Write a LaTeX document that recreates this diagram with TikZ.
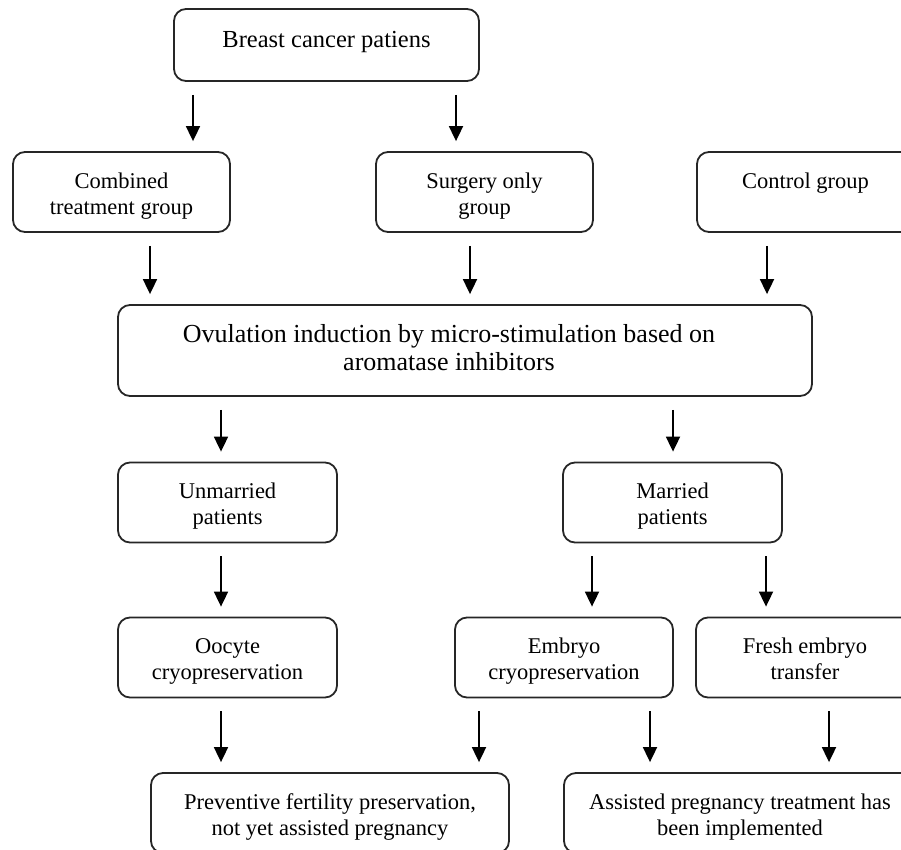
\documentclass[tikz,border=0pt]{standalone}
\usepackage{fontspec}
\setmainfont{Liberation Serif}
\usepackage{tikz}
\usetikzlibrary{arrows.meta}
% stacked lines, lowered a little inside the box
\newcommand{\lines}[2][-4pt]{\raisebox{#1}[\height][\depth]{\begin{tabular}{@{}c@{}}#2\end{tabular}}}

\begin{document}
\begin{tikzpicture}[x=1pt,y=-1pt]
  \tikzstyle{box}=[draw=black!85,line width=1.8pt,rounded corners=12pt,
                   minimum width=217pt,minimum height=80pt,inner sep=0pt,
                   font=\fontsize{22.5}{26}\selectfont]
  \tikzstyle{arr}=[line width=1.8pt,-{Triangle[length=15pt,width=14pt]},
                   shorten <=13pt,shorten >=10pt]
  \useasboundingbox (0,0) rectangle (901,850);
  \clip (0,0) rectangle (901,850);
  % boxes
  \node[box,minimum width=305pt,minimum height=72pt,font=\fontsize{24.5}{28}\selectfont]
        (patients) at (326.5,45) {\lines[3pt]{Breast cancer patiens}};
  \node[box] (combined) at (121.5,192) {\lines{Combined\\treatment group}};
  \node[box] (surgery) at (484.5,192) {\lines{Surgery only\\group}};
  \node[box] (control) at (805.5,192) {\lines{Control group\\~}};
  \node[box,minimum width=694pt,minimum height=91pt,font=\fontsize{26}{28}\selectfont]
        (ovulation) at (465,350.5) {\lines[0pt]{Ovulation induction by micro-stimulation based on\\aromatase inhibitors}\kern32pt};
  \node[box,minimum width=219pt] (unmarried) at (227.5,502.5) {\lines{Unmarried\\patients}};
  \node[box,minimum width=219pt] (married) at (672.5,502.5) {\lines{Married\\patients}};
  \node[box,minimum width=219pt] (oocyte) at (227.5,657.5) {\lines{Oocyte\\cryopreservation}};
  \node[box,minimum width=218pt] (embryo) at (564,657.5) {\lines{Embryo\\cryopreservation}};
  \node[box,minimum width=218pt] (fresh) at (805,657.5) {\lines{Fresh embryo\\transfer}};
  \node[box,minimum width=358pt] (preventive) at (330,813) {\lines{Preventive fertility preservation,\\not yet assisted pregnancy}};
  \node[box,minimum width=352pt] (assisted) at (740,813) {\lines{Assisted pregnancy treatment has\\been implemented}};
  % arrow columns
  \foreach \n/\x in {a/193,b/456,c/150,d/470,e/767,f/221,g/673,h/592,i/766,j/479,k/650,l/829}
    \coordinate (\n) at (\x,0);
  \draw[arr] (patients.south -| a) -- (combined.north -| a);
  \draw[arr] (patients.south -| b) -- (surgery.north -| b);
  \draw[arr] (combined.south -| c) -- (ovulation.north -| c);
  \draw[arr] (surgery.south -| d) -- (ovulation.north -| d);
  \draw[arr] (control.south -| e) -- (ovulation.north -| e);
  \draw[arr] (ovulation.south -| f) -- (unmarried.north -| f);
  \draw[arr] (ovulation.south -| g) -- (married.north -| g);
  \draw[arr] (unmarried.south -| f) -- (oocyte.north -| f);
  \draw[arr] (married.south -| h) -- (embryo.north -| h);
  \draw[arr] (married.south -| i) -- (fresh.north -| i);
  \draw[arr] (oocyte.south -| f) -- (preventive.north -| f);
  \draw[arr] (embryo.south -| j) -- (preventive.north -| j);
  \draw[arr] (embryo.south -| k) -- (assisted.north -| k);
  \draw[arr] (fresh.south -| l) -- (assisted.north -| l);
\end{tikzpicture}
\end{document}
